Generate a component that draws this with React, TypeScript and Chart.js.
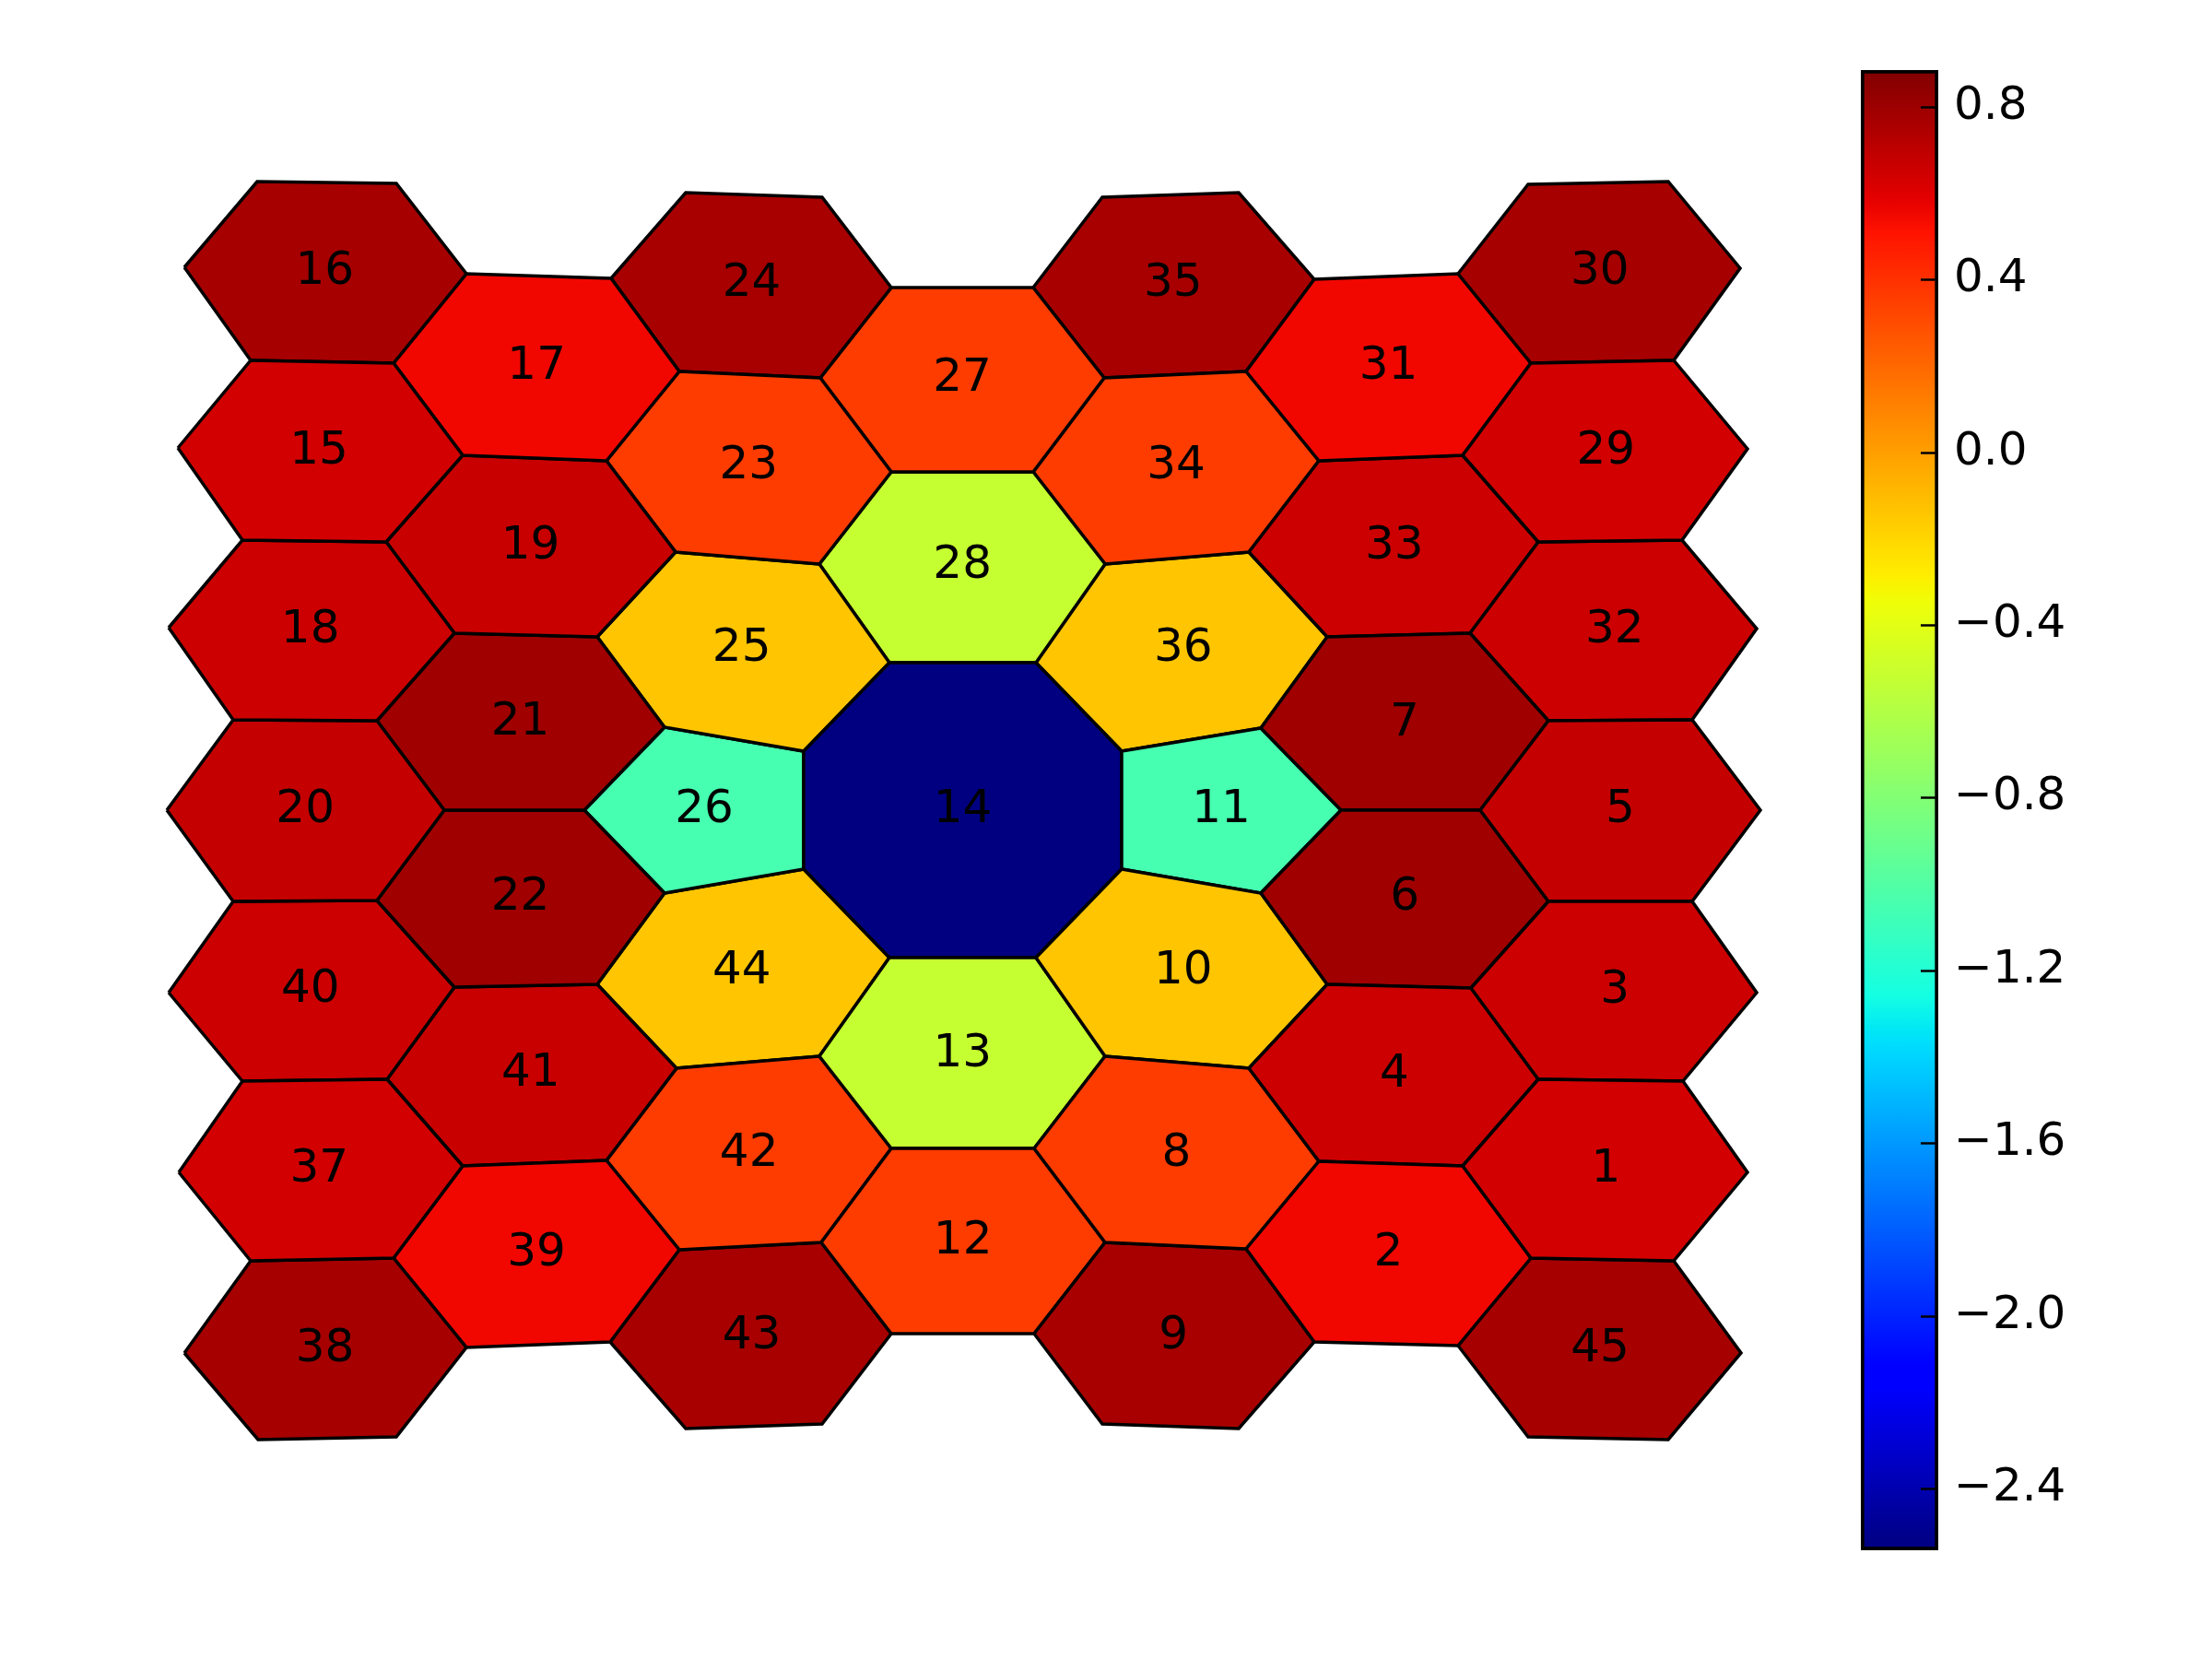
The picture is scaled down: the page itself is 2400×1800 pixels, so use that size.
import React, { useEffect, useRef } from "react";
import { Chart, registerables } from "chart.js";

Chart.register(...registerables);

// ---- data ----
const cellIds: number[] = [
  1, 2, 3, 4, 5, 6, 7, 8, 9, 10, 11, 12, 13, 14, 15, 16, 17, 18, 19, 20, 21, 22, 23,
  24, 25, 26, 27, 28, 29, 30, 31, 32, 33, 34, 35, 36, 37, 38, 39, 40, 41, 42, 43, 44, 45,
];

const cellValues: number[] = [
  0.64, 0.55, 0.66, 0.66, 0.68, 0.79, 0.79, 0.36, 0.765, -0.14, -1.05, 0.36, -0.52, -2.543, 0.64,
  0.77, 0.55, 0.66, 0.67, 0.68, 0.79, 0.79, 0.36, 0.765, -0.14, -1.05, 0.36, -0.52, 0.64, 0.77,
  0.55, 0.66, 0.66, 0.36, 0.765, -0.14, 0.64, 0.77, 0.55, 0.66, 0.67, 0.36, 0.765, -0.14, 0.77,
];

// polygon vertices for each cell (same order as cellIds)
const cellPolygons: number[][][] = [
  [[1587, 1265], [1669, 1171], [1826, 1173], [1896, 1272], [1816, 1368], [1661, 1365]],
  [[1352, 1355], [1431, 1260], [1587, 1265], [1661, 1365], [1582, 1460], [1426, 1456]],
  [[1596, 1072], [1680, 978], [1836, 978], [1906, 1077], [1826, 1173], [1669, 1171]],
  [[1355, 1159], [1440, 1068], [1596, 1072], [1669, 1171], [1587, 1265], [1431, 1260]],
  [[1606, 879], [1680, 782], [1836, 781], [1910, 879], [1836, 978], [1680, 978]],
  [[1368, 969], [1455, 879], [1606, 879], [1680, 978], [1596, 1072], [1440, 1068]],
  [[1368, 790], [1440, 691], [1595, 687], [1680, 782], [1606, 879], [1455, 879]],
  [[1122, 1246], [1199, 1146], [1355, 1159], [1431, 1260], [1352, 1355], [1199, 1348]],
  [[1122, 1447], [1199, 1348], [1352, 1355], [1426, 1456], [1344, 1550], [1196, 1545]],
  [[1124, 1039], [1217, 943], [1368, 969], [1440, 1068], [1355, 1159], [1199, 1146]],
  [[1217, 815], [1368, 790], [1455, 879], [1368, 969], [1217, 943]],
  [[891, 1348], [967, 1246], [1122, 1246], [1199, 1348], [1122, 1447], [967, 1447]],
  [[889, 1146], [965, 1039], [1124, 1039], [1199, 1146], [1122, 1246], [967, 1246]],
  [[965, 719], [1124, 719], [1217, 815], [1217, 943], [1124, 1039], [965, 1039], [872, 943], [872, 815]],
  [[193, 486], [272, 391], [427, 394], [502, 494], [419, 588], [263, 586]],
  [[200, 290], [279, 197], [430, 199], [506, 297], [427, 394], [272, 391]],
  [[427, 394], [506, 297], [663, 302], [737, 403], [658, 500], [502, 494]],
  [[183, 681], [263, 586], [419, 588], [493, 687], [409, 782], [253, 781]],
  [[419, 588], [502, 494], [658, 500], [733, 599], [648, 691], [493, 687]],
  [[181, 879], [253, 781], [409, 782], [482, 879], [409, 977], [253, 978]],
  [[409, 782], [493, 687], [648, 691], [721, 789], [634, 879], [482, 879]],
  [[409, 977], [482, 879], [634, 879], [721, 969], [648, 1068], [493, 1071]],
  [[658, 500], [737, 403], [890, 410], [967, 512], [889, 612], [733, 599]],
  [[663, 302], [744, 209], [892, 214], [967, 312], [890, 410], [737, 403]],
  [[648, 691], [733, 599], [889, 612], [965, 719], [872, 815], [721, 789]],
  [[721, 789], [872, 815], [872, 943], [721, 969], [634, 879]],
  [[890, 410], [967, 312], [1121, 312], [1198, 410], [1121, 512], [967, 512]],
  [[889, 612], [967, 512], [1121, 512], [1199, 612], [1124, 719], [965, 719]],
  [[1587, 494], [1661, 394], [1816, 391], [1896, 487], [1825, 586], [1669, 588]],
  [[1582, 297], [1658, 200], [1810, 197], [1888, 291], [1816, 391], [1661, 394]],
  [[1352, 403], [1426, 303], [1582, 297], [1661, 394], [1587, 494], [1431, 500]],
  [[1595, 687], [1669, 588], [1825, 586], [1906, 682], [1836, 781], [1680, 782]],
  [[1355, 599], [1431, 500], [1587, 494], [1669, 588], [1595, 687], [1440, 691]],
  [[1121, 512], [1198, 410], [1352, 403], [1431, 500], [1355, 599], [1199, 612]],
  [[1121, 312], [1196, 214], [1344, 209], [1426, 303], [1352, 403], [1198, 410]],
  [[1124, 719], [1199, 612], [1355, 599], [1440, 691], [1368, 790], [1217, 815]],
  [[194, 1272], [263, 1173], [420, 1171], [502, 1265], [427, 1365], [272, 1368]],
  [[200, 1468], [272, 1368], [427, 1365], [506, 1462], [430, 1559], [280, 1562]],
  [[427, 1365], [502, 1265], [658, 1259], [737, 1356], [662, 1456], [506, 1462]],
  [[183, 1077], [253, 978], [409, 977], [493, 1071], [420, 1171], [263, 1173]],
  [[420, 1171], [493, 1071], [648, 1068], [734, 1159], [658, 1259], [502, 1265]],
  [[658, 1259], [734, 1159], [889, 1146], [967, 1246], [891, 1348], [737, 1356]],
  [[662, 1456], [737, 1356], [891, 1348], [967, 1447], [892, 1545], [744, 1550]],
  [[648, 1068], [721, 969], [872, 943], [965, 1039], [889, 1146], [734, 1159]],
  [[1582, 1460], [1661, 1365], [1816, 1368], [1889, 1468], [1810, 1562], [1658, 1559]],
];

const colorMin = -2.543;
const colorMax = 0.885;
const colorbarTicks: number[] = [-2.4, -2.0, -1.6, -1.2, -0.8, -0.4, 0.0, 0.4, 0.8];

// ---- jet colormap ----
const JET_R = [[0, 0], [0.35, 0], [0.66, 1], [0.89, 1], [1, 0.5]];
const JET_G = [[0, 0], [0.125, 0], [0.375, 1], [0.64, 1], [0.91, 0], [1, 0]];
const JET_B = [[0, 0.5], [0.11, 1], [0.34, 1], [0.65, 0], [1, 0]];

function seg(pts: number[][], t: number): number {
  if (t <= pts[0][0]) return pts[0][1];
  for (let i = 1; i < pts.length; i++) {
    if (t <= pts[i][0]) {
      const [x0, y0] = pts[i - 1];
      const [x1, y1] = pts[i];
      return y0 + ((y1 - y0) * (t - x0)) / (x1 - x0);
    }
  }
  return pts[pts.length - 1][1];
}

function jet(t: number): string {
  const c = Math.max(0, Math.min(1, t));
  const r = Math.round(seg(JET_R, c) * 255);
  const g = Math.round(seg(JET_G, c) * 255);
  const b = Math.round(seg(JET_B, c) * 255);
  return `rgb(${r},${g},${b})`;
}

const norm = (v: number) => (v - colorMin) / (colorMax - colorMin);

const fmtTick = (v: number) => (v < -1e-9 ? "\u2212" : "") + Math.abs(v).toFixed(1);

const FONT = '"DejaVu Sans", sans-serif';

export default function App() {
  const mainRef = useRef<HTMLCanvasElement | null>(null);
  const cbRef = useRef<HTMLCanvasElement | null>(null);

  useEffect(() => {
    if (!mainRef.current || !cbRef.current) return;

    const labelPlugin = {
      id: "cellLabels",
      afterDatasetsDraw(chart: any) {
        const ctx = chart.ctx;
        const xs = chart.scales.x;
        const ys = chart.scales.y;
        ctx.save();
        ctx.fillStyle = "#000";
        ctx.font = `50px ${FONT}`;
        ctx.textAlign = "center";
        ctx.textBaseline = "middle";
        cellPolygons.forEach((poly, i) => {
          const mx = poly.reduce((s, p) => s + p[0], 0) / poly.length;
          const my = poly.reduce((s, p) => s + p[1], 0) / poly.length;
          ctx.fillText(String(cellIds[i]), xs.getPixelForValue(mx), ys.getPixelForValue(my));
        });
        ctx.restore();
      },
    };

    const main = new Chart(mainRef.current, {
      type: "line",
      data: {
        datasets: cellPolygons.map((poly, i) => ({
          label: String(cellIds[i]),
          data: [...poly, poly[0]].map(([x, y]) => ({ x, y })),
          fill: "shape",
          backgroundColor: jet(norm(cellValues[i])),
          borderColor: "#000",
          borderWidth: 3.5,
          borderJoinStyle: "miter",
          pointRadius: 0,
          pointHoverRadius: 0,
          tension: 0,
        })),
      } as any,
      options: {
        responsive: false,
        animation: false,
        events: [],
        layout: { padding: 0 },
        plugins: {
          legend: { display: false },
          tooltip: { enabled: false },
          filler: { propagate: false },
        },
        scales: {
          x: { type: "linear", min: 0, max: 2000, display: false },
          y: { type: "linear", min: 0, max: 1800, reverse: true, display: false },
        },
      } as any,
      plugins: [labelPlugin],
    });

    const tickMarkPlugin = {
      id: "cbTickMarks",
      afterDatasetsDraw(chart: any) {
        const ctx = chart.ctx;
        const ys = chart.scales.y;
        const area = chart.chartArea;
        ctx.save();
        ctx.strokeStyle = "#000";
        ctx.lineWidth = 2.5;
        colorbarTicks.forEach((v) => {
          const y = Math.round(ys.getPixelForValue(v)) + 0.5;
          ctx.beginPath();
          ctx.moveTo(area.right - 19, y);
          ctx.lineTo(area.right - 3, y);
          ctx.stroke();
        });
        ctx.restore();
      },
    };

    const cb = new Chart(cbRef.current, {
      type: "bar",
      data: {
        labels: [""],
        datasets: [
          {
            data: [[colorMin, colorMax]],
            backgroundColor: (c: any) => {
              const chart = c.chart;
              const area = chart.chartArea;
              if (!area) return "#000080";
              const g = chart.ctx.createLinearGradient(0, area.bottom, 0, area.top);
              const n = 128;
              for (let i = 0; i <= n; i++) g.addColorStop(i / n, jet(i / n));
              return g;
            },
            borderColor: "#000",
            borderWidth: 4,
            borderSkipped: false,
            barPercentage: 1,
            categoryPercentage: 1,
          },
        ],
      } as any,
      options: {
        responsive: false,
        animation: false,
        events: [],
        layout: { padding: { left: 19, top: 76, bottom: 118, right: 0 } },
        plugins: { legend: { display: false }, tooltip: { enabled: false } },
        scales: {
          x: { display: false },
          y: {
            position: "right",
            min: colorMin,
            max: colorMax,
            grid: { display: false, drawTicks: false },
            border: { display: false },
            ticks: {
              padding: 17,
              autoSkip: false,
              color: "#000",
              font: { family: FONT, size: 50 },
              callback: (v: any) => fmtTick(Number(v)),
            },
            afterBuildTicks: (s: any) => {
              s.ticks = colorbarTicks.map((v) => ({ value: v }));
            },
            afterFit: (s: any) => {
              s.width = 297;
            },
          },
        },
      } as any,
      plugins: [tickMarkPlugin],
    });

    return () => {
      main.destroy();
      cb.destroy();
    };
  }, []);

  return (
    <div style={{ position: "absolute", left: 0, top: 0, width: 2400, height: 1800, background: "#fff" }}>
      <canvas ref={mainRef} width={2000} height={1800} style={{ position: "absolute", left: 0, top: 0 }} />
      <canvas ref={cbRef} width={400} height={1800} style={{ position: "absolute", left: 2000, top: 0 }} />
    </div>
  );
}
